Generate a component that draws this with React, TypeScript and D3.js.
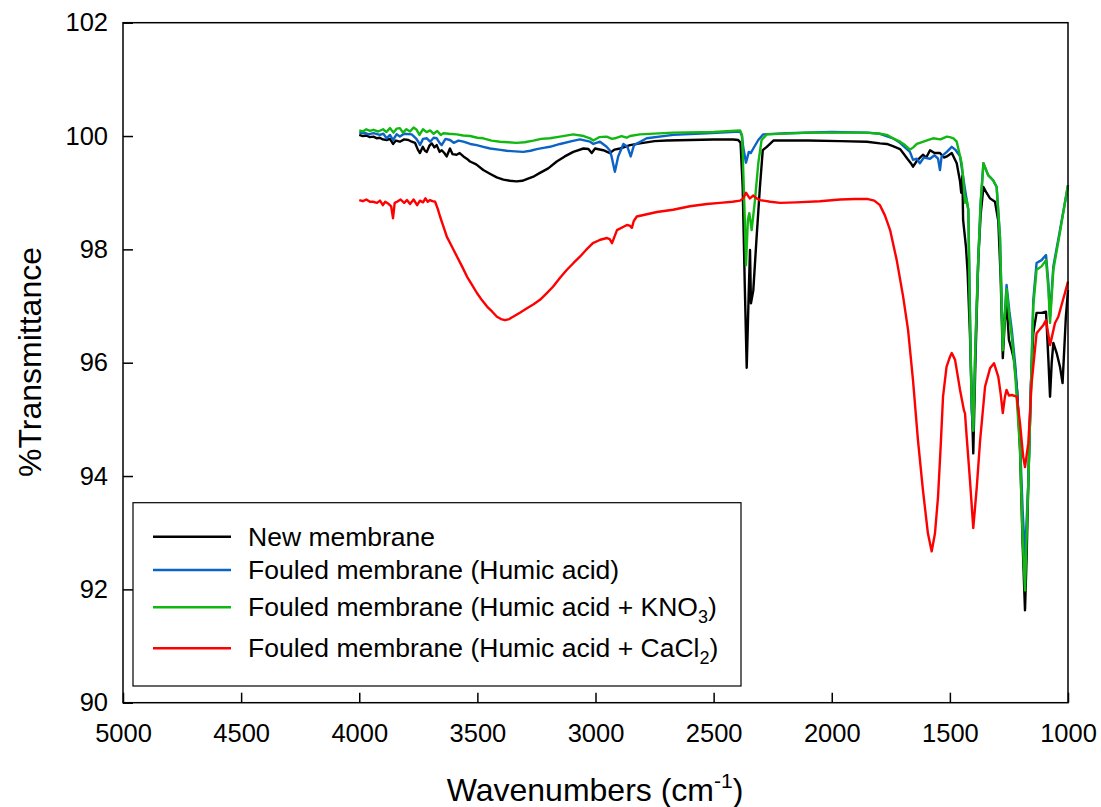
import { useEffect, useRef } from 'react'
import * as d3 from 'd3'

// tick values
const xTicks = [5000, 4500, 4000, 3500, 3000, 2500, 2000, 1500, 1000]
const yTicks = [90, 92, 94, 96, 98, 100, 102]

// [wavenumber, %T]
const newMembrane: [number, number][] = [
  [4000, 100.02], [3985, 100.0], [3970, 100.01], [3955, 99.98], [3940, 99.99], [3925, 99.96],
  [3913, 99.97], [3900, 99.94], [3884, 99.93], [3870, 99.95], [3857, 99.86], [3845, 99.92],
  [3828, 99.9], [3810, 99.94], [3792, 99.93], [3778, 99.9], [3764, 99.88], [3752, 99.76],
  [3743, 99.7], [3731, 99.81], [3722, 99.74], [3714, 99.72], [3703, 99.83], [3693, 99.87],
  [3682, 99.8], [3672, 99.84], [3660, 99.72], [3651, 99.75], [3640, 99.7], [3630, 99.64],
  [3616, 99.78], [3605, 99.68], [3588, 99.67], [3575, 99.7], [3559, 99.64], [3545, 99.6],
  [3531, 99.55], [3505, 99.5], [3475, 99.4], [3445, 99.33], [3418, 99.27], [3390, 99.23],
  [3362, 99.21], [3334, 99.2], [3310, 99.21], [3291, 99.24], [3260, 99.29], [3235, 99.35],
  [3200, 99.43], [3164, 99.55], [3130, 99.64], [3094, 99.72], [3051, 99.78], [3030, 99.77],
  [3016, 99.7], [3002, 99.78], [2967, 99.75], [2939, 99.7], [2920, 99.76], [2896, 99.78],
  [2854, 99.84], [2812, 99.87], [2750, 99.91], [2699, 99.92], [2600, 99.93], [2500, 99.94],
  [2417, 99.94], [2396, 99.93], [2386, 99.88], [2377, 99.1], [2368, 97.34], [2360, 95.91],
  [2351, 97.3], [2346, 97.99], [2342, 97.05], [2332, 97.28], [2318, 98.22], [2304, 99.1],
  [2292, 99.75], [2275, 99.81], [2247, 99.92], [2100, 99.92], [1965, 99.91], [1851, 99.9],
  [1796, 99.87], [1767, 99.86], [1741, 99.82], [1711, 99.77], [1698, 99.7], [1680, 99.6],
  [1665, 99.52], [1656, 99.46], [1640, 99.56], [1614, 99.67], [1600, 99.62], [1584, 99.75],
  [1565, 99.7], [1542, 99.7], [1525, 99.62], [1513, 99.64], [1492, 99.7], [1471, 99.52],
  [1457, 99.2], [1452, 99.0], [1447, 99.3], [1444, 98.52], [1432, 98.05], [1425, 97.6],
  [1415, 96.5], [1401, 94.4], [1392, 96.0], [1380, 97.8], [1370, 98.6], [1358, 99.1],
  [1345, 99.0], [1330, 98.9], [1309, 98.84], [1295, 98.5], [1285, 97.5], [1276, 96.08],
  [1268, 96.7], [1260, 97.05], [1250, 96.4], [1238, 96.22], [1228, 96.04], [1215, 95.5],
  [1203, 94.46], [1192, 92.8], [1182, 91.63], [1175, 92.6], [1168, 93.88], [1157, 95.6],
  [1147, 96.52], [1133, 96.88], [1112, 96.88], [1093, 96.9], [1083, 96.05], [1076, 95.4],
  [1069, 96.0], [1062, 96.35], [1048, 96.17], [1034, 95.93], [1023, 95.64], [1009, 96.81],
  [1000, 97.28],
]

const humicAcid: [number, number][] = [
  [4000, 100.05], [3980, 100.06], [3960, 100.03], [3940, 100.05], [3913, 100.02], [3898, 100.04],
  [3884, 99.96], [3870, 100.02], [3857, 99.93], [3842, 100.03], [3828, 99.99], [3810, 100.04],
  [3778, 100.03], [3760, 99.96], [3750, 99.9], [3743, 99.84], [3730, 99.95], [3714, 99.96],
  [3700, 99.9], [3685, 99.97], [3672, 99.96], [3660, 99.88], [3651, 99.84], [3635, 99.95],
  [3616, 99.93], [3600, 99.88], [3580, 99.92], [3559, 99.9], [3530, 99.86], [3503, 99.84],
  [3475, 99.81], [3446, 99.78], [3410, 99.76], [3376, 99.74], [3340, 99.73], [3306, 99.72],
  [3275, 99.74], [3249, 99.77], [3220, 99.79], [3193, 99.81], [3150, 99.86], [3100, 99.91],
  [3066, 99.94], [3023, 99.9], [3009, 99.86], [2981, 99.9], [2953, 99.81], [2940, 99.75],
  [2932, 99.64], [2918, 99.37], [2904, 99.64], [2882, 99.86], [2865, 99.81], [2851, 99.64],
  [2837, 99.84], [2783, 99.96], [2671, 100.02], [2529, 100.05], [2388, 100.08], [2380, 100.0],
  [2375, 99.81], [2363, 99.53], [2351, 99.72], [2343, 99.7], [2332, 99.78], [2311, 99.93],
  [2290, 100.03], [2191, 100.05], [2000, 100.07], [1851, 100.06], [1796, 100.04], [1741, 99.96],
  [1711, 99.88], [1690, 99.8], [1669, 99.72], [1656, 99.58], [1640, 99.6], [1627, 99.52],
  [1610, 99.62], [1584, 99.6], [1565, 99.66], [1550, 99.6], [1542, 99.4], [1535, 99.64],
  [1513, 99.72], [1492, 99.81], [1475, 99.75], [1457, 99.64], [1444, 99.28], [1430, 98.9],
  [1422, 98.7], [1408, 95.16], [1401, 94.8], [1392, 96.3], [1380, 97.8], [1370, 98.8],
  [1358, 99.52], [1338, 99.31], [1317, 99.22], [1302, 99.1], [1288, 98.22], [1276, 96.3],
  [1260, 97.37], [1248, 96.9], [1238, 96.58], [1222, 95.9], [1203, 94.6], [1192, 93.4],
  [1182, 92.58], [1168, 93.88], [1147, 97.1], [1133, 97.76], [1112, 97.81], [1093, 97.9],
  [1083, 97.4], [1076, 96.81], [1062, 97.7], [1034, 98.34], [1006, 98.99], [1000, 99.13],
]

const humicKNO3: [number, number][] = [
  [4000, 100.1], [3985, 100.08], [3970, 100.12], [3955, 100.09], [3940, 100.11], [3920, 100.08],
  [3899, 100.12], [3885, 100.07], [3870, 100.14], [3855, 100.06], [3842, 100.13], [3828, 100.14],
  [3815, 100.06], [3800, 100.12], [3785, 100.08], [3770, 100.15], [3757, 100.11], [3745, 100.02],
  [3730, 100.12], [3715, 100.07], [3700, 100.1], [3685, 100.04], [3670, 100.09], [3655, 100.02],
  [3644, 100.05], [3620, 100.04], [3587, 100.03], [3560, 100.01], [3531, 100.0], [3500, 99.97],
  [3475, 99.96], [3440, 99.92], [3404, 99.9], [3370, 99.89], [3334, 99.88], [3300, 99.89],
  [3263, 99.92], [3230, 99.95], [3193, 99.96], [3150, 99.99], [3094, 100.03], [3050, 100.0],
  [3023, 99.96], [3009, 99.92], [2985, 99.98], [2953, 99.99], [2930, 99.95], [2918, 99.96],
  [2890, 100.0], [2868, 99.97], [2854, 100.0], [2812, 100.03], [2671, 100.06], [2500, 100.07],
  [2388, 100.1], [2380, 100.02], [2377, 99.7], [2368, 98.52], [2363, 97.72], [2355, 98.52],
  [2349, 98.64], [2339, 98.34], [2325, 98.87], [2311, 99.52], [2297, 99.93], [2275, 100.03],
  [2100, 100.06], [1965, 100.06], [1851, 100.06], [1796, 100.04], [1767, 100.02], [1741, 99.96],
  [1711, 99.9], [1690, 99.84], [1669, 99.76], [1655, 99.8], [1640, 99.86], [1627, 99.88],
  [1600, 99.92], [1571, 99.96], [1540, 99.94], [1513, 99.99], [1500, 99.98], [1485, 99.96],
  [1471, 99.9], [1450, 99.52], [1444, 99.28], [1436, 98.82], [1430, 98.9], [1422, 98.7],
  [1415, 96.75], [1408, 95.4], [1401, 94.8], [1392, 96.3], [1380, 97.8], [1370, 98.8],
  [1358, 99.52], [1338, 99.31], [1317, 99.22], [1302, 99.1], [1288, 98.22], [1276, 96.22],
  [1260, 97.3], [1248, 96.8], [1238, 96.46], [1222, 95.7], [1203, 94.46], [1192, 92.9],
  [1182, 91.98], [1168, 93.88], [1147, 97.0], [1133, 97.64], [1112, 97.7], [1093, 97.81],
  [1083, 97.3], [1076, 96.7], [1062, 97.64], [1034, 98.3], [1006, 98.99], [1000, 99.13],
]

const humicCaCl2: [number, number][] = [
  [4000, 98.87], [3985, 98.85], [3970, 98.88], [3955, 98.84], [3942, 98.84], [3925, 98.82],
  [3912, 98.86], [3900, 98.78], [3890, 98.84], [3875, 98.8], [3865, 98.76], [3857, 98.55],
  [3850, 98.82], [3840, 98.84], [3825, 98.88], [3810, 98.82], [3798, 98.87], [3785, 98.8],
  [3770, 98.88], [3755, 98.78], [3743, 98.86], [3730, 98.83], [3720, 98.9], [3710, 98.84],
  [3701, 98.87], [3690, 98.85], [3679, 98.84], [3668, 98.72], [3658, 98.58], [3645, 98.42],
  [3629, 98.22], [3608, 98.05], [3586, 97.87], [3565, 97.7], [3544, 97.52], [3522, 97.37],
  [3502, 97.23], [3480, 97.1], [3459, 96.99], [3437, 96.9], [3417, 96.81], [3400, 96.77],
  [3383, 96.75], [3365, 96.77], [3349, 96.81], [3320, 96.88], [3290, 96.96], [3262, 97.03],
  [3235, 97.11], [3208, 97.22], [3180, 97.34], [3150, 97.5], [3121, 97.64], [3093, 97.76],
  [3066, 97.87], [3040, 97.99], [3011, 98.11], [2980, 98.17], [2951, 98.2], [2940, 98.18],
  [2930, 98.11], [2920, 98.22], [2909, 98.34], [2867, 98.43], [2855, 98.42], [2846, 98.38],
  [2838, 98.5], [2825, 98.58], [2740, 98.66], [2672, 98.7], [2600, 98.76], [2528, 98.8],
  [2473, 98.82], [2420, 98.84], [2388, 98.86], [2375, 98.9], [2363, 99.0], [2352, 98.93],
  [2346, 98.9], [2333, 98.95], [2318, 98.9], [2304, 98.87], [2260, 98.84], [2219, 98.82],
  [2150, 98.83], [2050, 98.85], [1965, 98.88], [1900, 98.89], [1851, 98.89], [1820, 98.86],
  [1796, 98.78], [1775, 98.6], [1753, 98.34], [1725, 97.81], [1698, 97.17], [1677, 96.58],
  [1656, 95.69], [1635, 94.63], [1614, 93.75], [1593, 92.99], [1577, 92.67], [1563, 92.99],
  [1550, 93.64], [1539, 94.52], [1529, 95.4], [1514, 95.93], [1500, 96.1], [1492, 96.17],
  [1478, 96.05], [1457, 95.52], [1440, 95.15], [1436, 95.11], [1429, 94.7], [1415, 93.93],
  [1401, 93.08], [1386, 93.81], [1372, 94.63], [1351, 95.58], [1330, 95.9], [1313, 95.99],
  [1295, 95.75], [1285, 95.45], [1276, 95.11], [1267, 95.4], [1260, 95.52], [1250, 95.42],
  [1238, 95.43], [1217, 95.4], [1203, 94.93], [1190, 94.35], [1182, 94.16], [1168, 94.58],
  [1154, 95.64], [1133, 96.52], [1105, 96.66], [1093, 96.75], [1076, 96.31], [1055, 96.7],
  [1041, 96.81], [1013, 97.23], [1000, 97.43],
]

const series = [
  { label: 'New membrane', sub: '', tail: '', color: '#000000', data: newMembrane },
  { label: 'Fouled membrane (Humic acid)', sub: '', tail: '', color: '#0c63c6', data: humicAcid },
  { label: 'Fouled membrane (Humic acid + KNO', sub: '3', tail: ')', color: '#12b812', data: humicKNO3 },
  { label: 'Fouled membrane (Humic acid + CaCl', sub: '2', tail: ')', color: '#ff0000', data: humicCaCl2 },
]

const FONT = '"Liberation Sans", Arial, Helvetica, sans-serif'
const margin = { top: 22.7, left: 123, right: 33, bottom: 104.3 }
const width = 1101
const height = 807
const innerW = width - margin.left - margin.right
const innerH = height - margin.top - margin.bottom

const App = () => {
  const axisRef = useRef<SVGGElement>(null)

  const x = d3.scaleLinear().domain([5000, 1000]).range([0, innerW])
  const y = d3.scaleLinear().domain([90, 102]).range([innerH, 0])

  const line = d3.line<[number, number]>()
    .x(d => x(d[0]))
    .y(d => y(d[1]))

  useEffect(() => {
    const g = d3.select(axisRef.current)
    g.selectAll('*').remove()

    // asse x, tick verso l'interno
    const gx = g.append('g')
      .attr('transform', `translate(0,${innerH})`)
      .call(d3.axisBottom(x).tickValues(xTicks).tickFormat(d3.format('d'))
        .tickSizeInner(-10).tickSizeOuter(0).tickPadding(21))
    // asse y
    const gy = g.append('g')
      .call(d3.axisLeft(y).tickValues(yTicks).tickFormat(d3.format('d'))
        .tickSizeInner(-10).tickSizeOuter(0).tickPadding(15))

    for (const a of [gx, gy]) {
      a.select('.domain').remove()
      a.selectAll('line').attr('stroke', '#000').attr('stroke-width', 1.5)
      a.selectAll('text').attr('fill', '#000').style('font-size', '25.5px').style('font-family', FONT)
    }
  }, [])

  const legendX = 133 - margin.left
  const legendY = 502.7 - margin.top
  const rows = [536.7, 570, 607.3, 648.3]

  return (
    <svg width={width} height={height} style={{ position: 'absolute', left: 0, top: 0, background: '#fff' }}>
      <g transform={`translate(${margin.left},${margin.top})`}>
        {series.map(s => (
          <path key={s.label} d={line(s.data) ?? ''} fill="none" stroke={s.color}
            strokeWidth={2.4} strokeLinejoin="round" />
        ))}
        <rect x={0} y={0} width={innerW} height={innerH} fill="none" stroke="#000" strokeWidth={1.5} />
        <g ref={axisRef} />

        <rect x={legendX} y={legendY} width={608} height={183.3} fill="#fff" stroke="#000" strokeWidth={1.2} />
        {series.map((s, i) => (
          <g key={'lg' + i} transform={`translate(0,${rows[i] - margin.top})`}>
            <line x1={153 - margin.left} x2={231 - margin.left} y1={0} y2={0} stroke={s.color} strokeWidth={2.4} />
            <text x={248 - margin.left} y={9} fontSize={26.5} fontFamily={FONT} fill="#000">
              {s.label}
              {s.sub && <tspan fontSize={18} dy={7}>{s.sub}</tspan>}
              {s.tail && <tspan dy={-7}>{s.tail}</tspan>}
            </text>
          </g>
        ))}
      </g>

      <text transform="translate(41,362) rotate(-90)" textAnchor="middle" fontSize={32}
        fontFamily={FONT} fill="#000">%Transmittance</text>
      <text x={595} y={801} textAnchor="middle" fontSize={32} fontFamily={FONT} fill="#000">
        Wavenumbers (cm<tspan fontSize={21} dy={-13}>-1</tspan><tspan dy={13}>)</tspan>
      </text>
    </svg>
  )
}

export default App
